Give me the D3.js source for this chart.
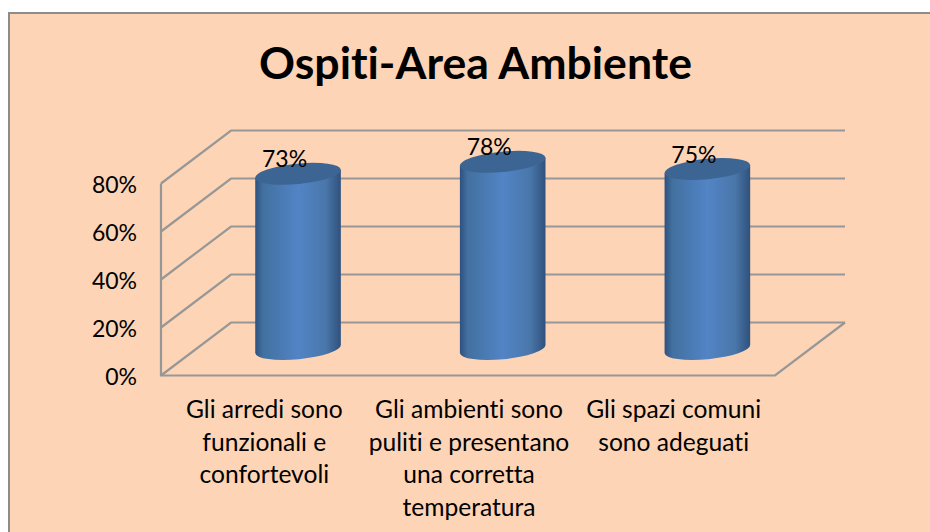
<!DOCTYPE html>
<html><head><meta charset="utf-8">
<script src="https://cdn.jsdelivr.net/npm/d3@7"></script>
<style>html,body{margin:0;padding:0;background:#fff;overflow:hidden}svg{display:block}text{font-variant-ligatures:none;font-feature-settings:"liga" 0}</style>
</head><body><svg id="c" width="930" height="532"></svg>
<script>
const chartTitle = "Ospiti-Area Ambiente";
const categories = ["a","b","c"];
const categoryLines = [
  ["Gli arredi sono","funzionali e","confortevoli"],
  ["Gli ambienti sono","puliti e presentano","una corretta","temperatura"],
  ["Gli spazi comuni","sono adeguati"]
];
const values = [73,78,75];
const yTicks = [0,20,40,60,80];

const svg = d3.select("#c");
const font = "Lato, sans-serif";
const grey = "#979797";
const depthX = 70, depthY = -53;
const x = d3.scaleBand().domain(categories).range([161,775]);
const y = d3.scaleLinear().domain([0,80]).range([375.5,183.5]);

svg.append("rect").attr("x",9).attr("y",13).attr("width",940).attr("height",540)
  .attr("fill","#fdd4b5").attr("stroke","#8c8c8c").attr("stroke-width",2);

svg.append("text").attr("x",475.5).attr("y",79).attr("text-anchor","middle")
  .attr("font-family",font).attr("font-weight",700).attr("font-size",44.6).attr("fill","#000").text(chartTitle);

const defs = svg.append("defs");
const g = defs.append("linearGradient").attr("id","cyl");
[[0,"#2e5180"],[0.09,"#42709f"],[0.5,"#5284c6"],[0.82,"#4a77aa"],[1,"#2f517c"]]
  .forEach(([o,c])=>g.append("stop").attr("offset",o).attr("stop-color",c));

const walls = svg.append("g").attr("fill","none").attr("stroke",grey).attr("stroke-width",2.2);
yTicks.forEach(t=>{
  const p = d3.path();
  p.moveTo(161,y(t));
  p.lineTo(161+depthX,y(t)+depthY);
  p.lineTo(845,y(t)+depthY);
  walls.append("path").attr("d",p.toString());
});
const frame = d3.path();
frame.moveTo(161,y(80)); frame.lineTo(161,y(0)); frame.lineTo(775,y(0)); frame.lineTo(845,y(0)+depthY);
walls.append("path").attr("d",frame.toString());

const yAxis = d3.axisLeft(y).tickValues(yTicks).tickFormat(d=>d+"%").tickSize(0).tickPadding(0);
const ax = svg.append("g").attr("transform","translate(137,0)").call(yAxis);
ax.select(".domain").remove();
ax.selectAll("text").attr("font-family",font).attr("font-size",23).attr("fill","#000").attr("y",9).attr("dy",0);

const rx = 43, ry = 10.2, rot = -5.5;
const ex = rx*Math.cos(rot*Math.PI/180), ey = rx*Math.sin(rot*Math.PI/180);
const bars = svg.append("g").selectAll("g").data(categories).join("g");
bars.each(function(c,i){
  const cx = x(c)+x.bandwidth()/2+depthX/2-0.3;
  const yb = y(0)+depthY/2, yt = y(values[i])+depthY/2;
  const s = d3.select(this);
  s.append("path").attr("fill","url(#cyl)")
    .attr("d",`M${cx-ex},${yt-ey}L${cx+ex},${yt+ey}L${cx+ex},${yb+ey}A${rx},${ry} ${rot} 0 1 ${cx-ex},${yb-ey}Z`);
  s.append("ellipse").attr("cx",cx).attr("cy",yt).attr("rx",rx).attr("ry",ry)
    .attr("transform",`rotate(${rot} ${cx} ${yt})`).attr("fill","#3c6593");
  s.append("text").attr("x",cx-13.5).attr("y",yt-6.5).attr("text-anchor","middle")
    .attr("font-family",font).attr("font-size",23).attr("fill","#000").text(values[i]+"%");
  const t = s.append("text").attr("text-anchor","middle").attr("font-family",font)
    .attr("font-size",24.6).attr("fill","#000");
  categoryLines[i].forEach((l,k)=>t.append("tspan").attr("x",x(c)+x.bandwidth()/2+1).attr("y",418+k*32.7).text(l));
});
</script></body></html>
